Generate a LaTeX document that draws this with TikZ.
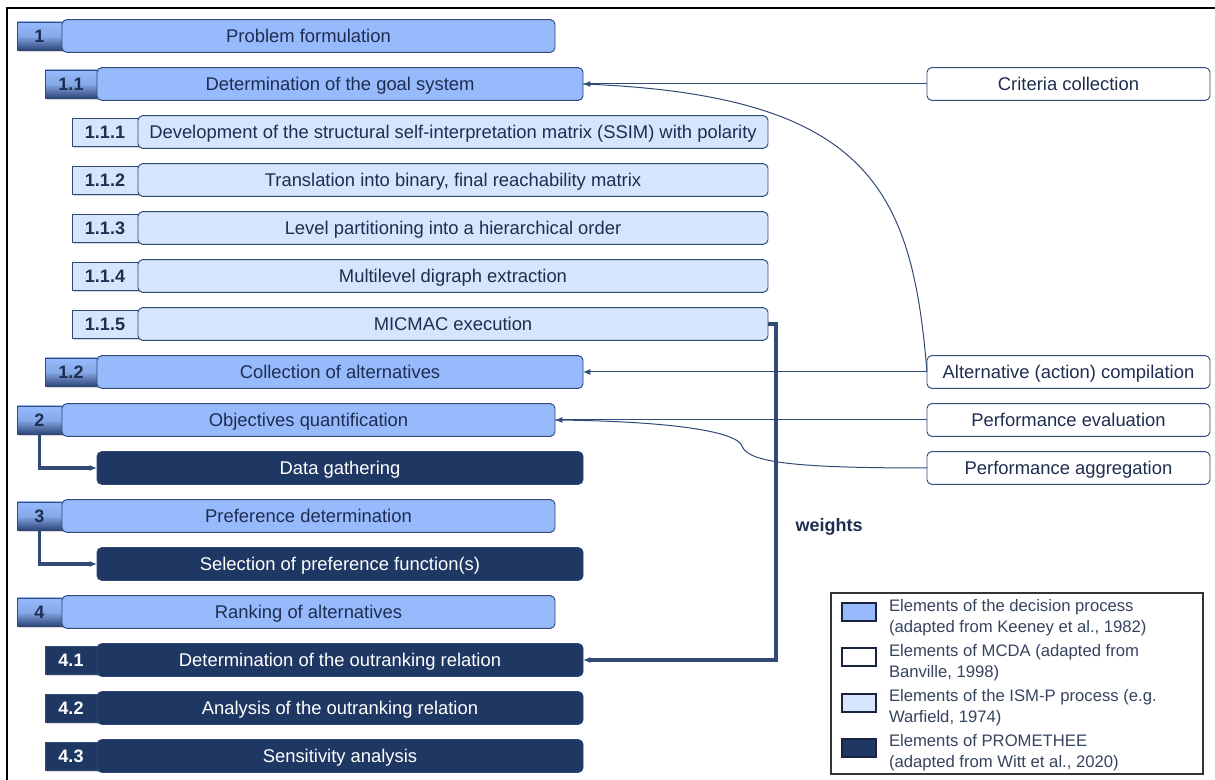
\documentclass[tikz,border=0pt]{standalone}
\usepackage{fontspec}
\setmainfont{Liberation Sans}
\usetikzlibrary{arrows.meta,shadows}
\definecolor{decfill}{RGB}{150,186,252}
\definecolor{ismfill}{RGB}{214,228,252}
\definecolor{promfill}{RGB}{31,55,99}
\definecolor{edge}{RGB}{50,74,118}
\definecolor{ink}{RGB}{30,45,80}
\definecolor{tabdark}{RGB}{45,70,120}
\definecolor{legendink}{RGB}{55,68,95}
\begin{document}
\begin{tikzpicture}[x=0.75pt,y=-0.75pt,
  every node/.style={inner sep=0pt, outer sep=0pt},
  wd/.style={minimum width=#1*0.75pt},
  boxbase/.style={rounded corners=3.5pt, draw=edge, line width=0.7pt,
    minimum height=24.5pt, anchor=west, text=ink,
    text height=9.9pt, text depth=0.6pt,
    font=\fontsize{13.8}{16}\selectfont},
  decbox/.style={boxbase, fill=decfill},
  ismbox/.style={boxbase, fill=ismfill},
  prombox/.style={boxbase, fill=promfill, text=white},
  mcdabox/.style={boxbase, fill=white, wd=283},
  tabbase/.style={anchor=east, minimum height=21pt, draw=edge, line width=0.6pt,
    text height=9.6pt, text depth=0.4pt,
    font=\bfseries\fontsize{13.5}{16}\selectfont,
    drop shadow={shadow xshift=1.2pt, shadow yshift=-1.2pt, opacity=0.3}},
  dectab/.style={tabbase, top color=decfill, bottom color=tabdark,
    middle color=decfill!85!tabdark, text=ink},
  ismtab/.style={tabbase, fill=ismfill, text=ink},
  promtab/.style={tabbase, fill=promfill, text=white},
  conn/.style={draw=edge, line width=0.75pt},
  tip/.style={-{Latex[length=5.5pt,width=4.5pt]}},
  thickconn/.style={draw=edge, line width=2.3pt},
  swatch/.style={draw=ink!80!black, line width=0.9pt, minimum width=25.5pt, minimum height=13.5pt},
  legtext/.style={anchor=west, align=left, text=legendink,
    font=\fontsize{12.5}{15.8}\selectfont}
]
\useasboundingbox (0,0) rectangle (1215,780);
\fill[white] (0,0) rectangle (1215,780);
% outer frame (top and left edges)
\draw[line width=2.2pt] (7,780) -- (7,8) -- (1215,8);

% level 1: problem formulation
\node[dectab, wd=45] (t1) at (62,36) {1};
\node[decbox, wd=493] (b1) at (62,36) {Problem formulation};
\node[dectab, wd=52] (t11) at (97,84) {1.1};
\node[decbox, wd=486] (b11) at (97,84) {Determination of the goal system};
\node[ismtab, wd=66] (t111) at (138,132) {1.1.1};
\node[ismbox, wd=630] (b111) at (138,132) {Development of the structural self-interpretation matrix (SSIM) with polarity};
\node[ismtab, wd=66] (t112) at (138,180) {1.1.2};
\node[ismbox, wd=630] (b112) at (138,180) {Translation into binary, final reachability matrix};
\node[ismtab, wd=66] (t113) at (138,228) {1.1.3};
\node[ismbox, wd=630] (b113) at (138,228) {Level partitioning into a hierarchical order};
\node[ismtab, wd=66] (t114) at (138,276) {1.1.4};
\node[ismbox, wd=630] (b114) at (138,276) {Multilevel digraph extraction};
\node[ismtab, wd=66] (t115) at (138,324) {1.1.5};
\node[ismbox, wd=630] (b115) at (138,324) {MICMAC execution};
\node[dectab, wd=52] (t12) at (97,372) {1.2};
\node[decbox, wd=486] (b12) at (97,372) {Collection of alternatives};

% level 2: objectives quantification
\node[dectab, wd=45] (t2) at (62,420) {2};
\node[decbox, wd=493] (b2) at (62,420) {Objectives quantification};
\node[prombox, wd=486] (dg) at (97,468) {Data gathering};

% level 3: preference determination
\node[dectab, wd=45] (t3) at (62,516) {3};
\node[decbox, wd=493] (b3) at (62,516) {Preference determination};
\node[prombox, wd=486] (spf) at (97,564) {Selection of preference function(s)};

% level 4: ranking
\node[dectab, wd=45] (t4) at (62,612) {4};
\node[decbox, wd=493] (b4) at (62,612) {Ranking of alternatives};
\node[promtab, wd=52] (t41) at (97,660) {4.1};
\node[prombox, wd=486] (b41) at (97,660) {Determination of the outranking relation};
\node[promtab, wd=52] (t42) at (97,708) {4.2};
\node[prombox, wd=486] (b42) at (97,708) {Analysis of the outranking relation};
\node[promtab, wd=52] (t43) at (97,756) {4.3};
\node[prombox, wd=486] (b43) at (97,756) {Sensitivity analysis};

% MCDA elements
\node[mcdabox] (crit) at (927,84) {Criteria collection};
\node[mcdabox] (alt) at (927,372) {Alternative (action) compilation};
\node[mcdabox] (peval) at (927,420) {Performance evaluation};
\node[mcdabox] (pagg) at (927,468) {Performance aggregation};

% connectors
\draw[conn, tip] (crit.west) -- (b11.east);
\draw[conn] (alt.west) .. controls (912,190) and (870,95) .. (b11.east);
\draw[conn, tip] (alt.west) -- (b12.east);
\draw[conn, tip] (peval.west) -- (b2.east);
\draw[conn] (pagg.west) .. controls (790,468) and (748,462) .. (742,446)
  .. controls (736,430) and (660,421) .. (b2.east);
\draw[thickconn, tip] (t2.south) |- (dg.west);
\draw[thickconn, tip] (t3.south) |- (spf.west);
\draw[thickconn, tip] (b115.east) -- ++(8,0) |- (b41.east);
\node[text=ink, font=\bfseries\fontsize{13.5}{16}\selectfont] (wt) at (829,527) {weights};

% legend
\node[draw=black!80, line width=1pt, anchor=north west, minimum width=372*0.75pt,
  minimum height=181*0.75pt] (leg) at (831,593) {};
\node[swatch, fill=decfill] (s1) at (859,612) {};
\node[swatch, fill=white] (s2) at (859,657) {};
\node[swatch, fill=ismfill] (s3) at (859,703) {};
\node[swatch, fill=promfill] (s4) at (859,748) {};
\node[legtext] (l1) at (889,618) {Elements of the decision process\\(adapted from Keeney et al., 1982)};
\node[legtext] (l2) at (889,663) {Elements of MCDA (adapted from\\Banville, 1998)};
\node[legtext] (l3) at (889,708) {Elements of the ISM-P process (e.g.\\Warfield, 1974)};
\node[legtext] (l4) at (889,753) {Elements of PROMETHEE\\(adapted from Witt et al., 2020)};
\end{tikzpicture}
\end{document}
